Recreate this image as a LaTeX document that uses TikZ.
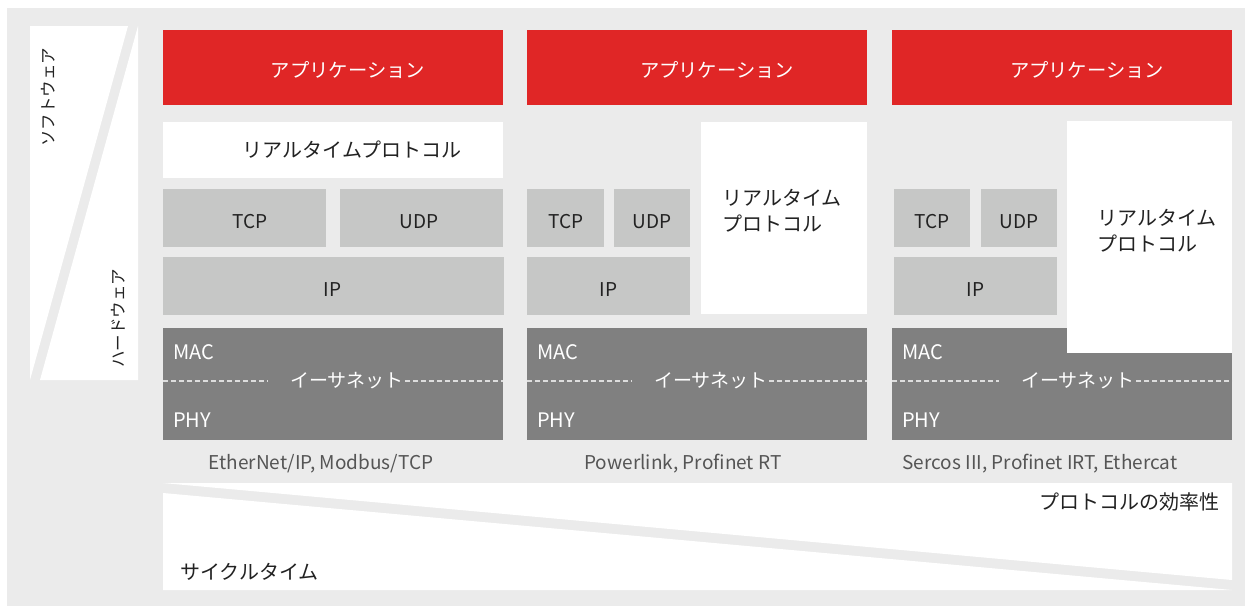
\documentclass[tikz,border=0pt]{standalone}
\usepackage{fontspec}
\setmainfont{Noto Sans CJK JP}
\definecolor{bgc}{HTML}{EBEBEB}
\definecolor{appred}{HTML}{E02626}
\definecolor{lgray}{HTML}{C6C7C6}
\definecolor{dgray}{HTML}{808080}
\definecolor{txt}{HTML}{222222}
\definecolor{captxt}{HTML}{555555}
\definecolor{dashc}{HTML}{DDDDDD}
\begin{document}
\begin{tikzpicture}[x=1pt,y=-1pt,
  box/.style={rectangle, inner sep=0pt, anchor=north west, draw=none},
  appbox/.style={box, fill=appred, minimum width=340, minimum height=75},
  apptxt/.style={text=white, font=\fontsize{19.3}{22}\selectfont, inner sep=0pt},
  whitebox/.style={box, fill=white},
  protobox/.style={box, fill=lgray},
  ptxt/.style={text=txt, font=\fontsize{19}{22}\selectfont, inner sep=0pt},
  ethbox/.style={box, fill=dgray, minimum width=340, minimum height=112},
  bigtxt/.style={text=txt, font=\fontsize{20}{26}\selectfont, inner sep=0pt},
  ethlbl/.style={text=white, font=\fontsize{20}{22}\selectfont, inner sep=0pt, anchor=west},
  ethname/.style={text=white, font=\fontsize{19}{22}\selectfont, inner sep=0pt},
  caption/.style={text=captxt, font=\fontsize{19}{22}\selectfont, inner sep=0pt},
  sidetxt/.style={text=txt, font=\fontsize{16.5}{19}\selectfont, inner sep=0pt, rotate=90},
  ethdash/.style={draw=dashc, line width=1.2pt, dash pattern=on 5pt off 3pt}
]
\useasboundingbox (0,0) rectangle (1245,606);
\fill[bgc] (7,8) rectangle (1245,606);

% left side panel
\fill[white] (30,26) -- (128,26) -- (30,380) -- cycle;
\fill[white] (138,26) -- (138,380) -- (40,380) -- cycle;
\node[sidetxt] (sw) at (48,97) {ソフトウェア};
\node[sidetxt] (hw) at (118,318) {ハードウェア};

% bottom panel
\fill[white] (163,483) -- (1232,483) -- (1232,580) -- cycle;
\fill[white] (163,493) -- (163,590) -- (1232,590) -- cycle;
\node[bigtxt, anchor=east] (eff) at (1220,502) {プロトコルの効率性};
\node[bigtxt, anchor=west] (cyc) at (180,572) {サイクルタイム};

% application boxes and ethernet
\foreach \c/\ox/\tx/\ax in {1/0/347/348, 2/364/711/717, 3/729/1078/1087} {
  \node[appbox] (app\c) at (163+\ox,30) {};
  \node[apptxt] (app\c t) at (\ax,70) {アプリケーション};
  \node[ethbox] (eth\c) at (163+\ox,328) {};
  \draw[ethdash] (163+\ox,381) -- (\tx-79,381);
  \draw[ethdash] (\tx+58,381) -- (503+\ox,381);
  \node[ethname] (en\c) at (\tx,381) {イーサネット};
  \node[ethlbl] (mac\c) at (173+\ox,352) {MAC};
  \node[ethlbl] (phy\c) at (173+\ox,420) {PHY};
}

% column 1
\node[whitebox, minimum width=340, minimum height=56] (rt1) at (163,122) {};
\node[bigtxt] (rt1t) at (352,150) {リアルタイムプロトコル};
\node[protobox, minimum width=163, minimum height=58] (tcp1) at (163,189) {};
\node[protobox, minimum width=163, minimum height=58] (udp1) at (340,189) {};
\node[protobox, minimum width=341, minimum height=58] (ip1) at (163,257) {};

% column 2
\node[protobox, minimum width=77, minimum height=58] (tcp2) at (527,189) {};
\node[protobox, minimum width=76, minimum height=58] (udp2) at (614,189) {};
\node[protobox, minimum width=163, minimum height=58] (ip2) at (527,257) {};
\node[whitebox, minimum width=166, minimum height=192] (rt2) at (701,122) {};
\node[bigtxt, align=left] (rt2t) at (782,211) {リアルタイム\\プロトコル};

% column 3
\node[protobox, minimum width=76, minimum height=58] (tcp3) at (894,189) {};
\node[protobox, minimum width=76, minimum height=58] (udp3) at (981,189) {};
\node[protobox, minimum width=163, minimum height=58] (ip3) at (894,257) {};
\node[whitebox, minimum width=165, minimum height=232] (rt3) at (1067,121) {};
\node[bigtxt, align=left] (rt3t) at (1157,231) {リアルタイム\\プロトコル};

% protocol labels
\node[ptxt] (tcp1t) at ([xshift=5pt,yshift=-3pt]tcp1.center) {TCP};
\node[ptxt] (udp1t) at ([xshift=-3pt,yshift=-3pt]udp1.center) {UDP};
\node[ptxt] (ip1t) at ([xshift=-1pt,yshift=-3pt]ip1.center) {IP};
\foreach \c in {2,3} {
  \node[ptxt] (tcp\c t) at ([yshift=-3pt]tcp\c.center) {TCP};
  \node[ptxt] (udp\c t) at ([yshift=-3pt]udp\c.center) {UDP};
  \node[ptxt] (ip\c t) at ([yshift=-3pt]ip\c.center) {IP};
}

% captions
\node[caption] (cap1) at (321,464) {EtherNet/IP, Modbus/TCP};
\node[caption] (cap2) at (683,464) {Powerlink, Profinet RT};
\node[caption] (cap3) at (1040,464) {Sercos III, Profinet IRT, Ethercat};
\end{tikzpicture}
\end{document}
